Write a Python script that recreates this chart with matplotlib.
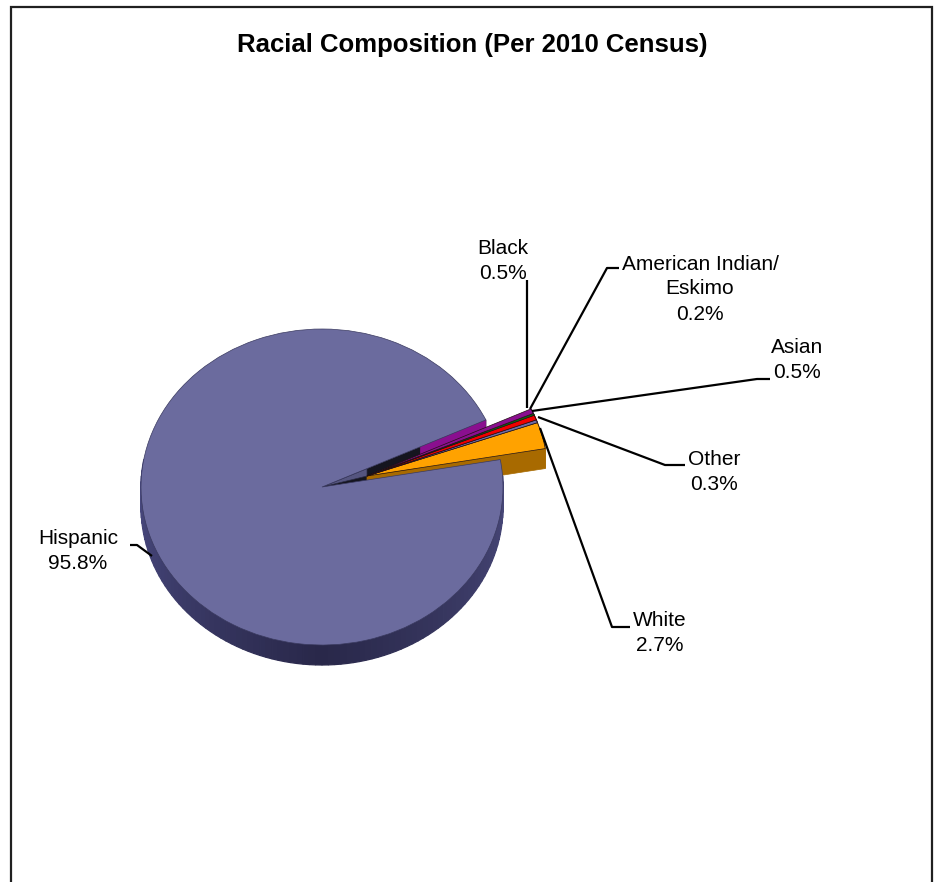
import numpy as np
import matplotlib
matplotlib.use("Agg")
import matplotlib.pyplot as plt
from matplotlib.patches import Wedge, Polygon, Rectangle

plt.rcParams['font.family'] = ['Liberation Sans', 'DejaVu Sans']

# data
categories = ['White', 'Other', 'Asian', 'American Indian/\nEskimo', 'Black', 'Hispanic']
values = [2.7, 0.3, 0.5, 0.2, 0.5, 95.8]
title = 'Racial Composition (Per 2010 Census)'

# styles
top_colors = ['#FFA200', '#6C6CA8', '#F00000', '#0B6B12', '#8A0F8F', '#6B6B9E']
side_colors = ['#A86A00', '#46466E', '#9A0000', '#063F0A', '#5A0A5E', '#33335A']
W, H = 934, 882
CX, CY, RX, RY, DEPTH = 322, 487, 181, 158, 20
OFF_X, OFF_Y = 45, -11
START = 10.0

fig = plt.figure(figsize=(W / 100, H / 100), dpi=100, facecolor='white')
ax = fig.add_axes([0, 0, 1, 1])
# one data unit is one pie radius along each axis, so a circle is drawn as the ellipse
ax.set_xlim(-CX / RX, (W - CX) / RX)
ax.set_ylim(-(H - CY) / RY, CY / RY)
ax.axis('off')


def px(x, y):
    return (x - CX) / RX, (CY - y) / RY


dz = DEPTH / RY
ox, oy = OFF_X / RX, -OFF_Y / RY

fracs = np.array(values) / sum(values) * 360.0
starts = START + np.concatenate([[0], np.cumsum(fracs)[:-1]])
ends = starts + fracs


def rim(a0, a1, c0, c1=None, cx=0.0, cy=0.0, z=1, steps=None):
    c1 = c0 if c1 is None else c1
    n = steps or max(2, int(abs(a1 - a0) / 2))
    ang = np.radians(np.linspace(a0, a1, n + 1))
    for i in range(n):
        t = i / max(n - 1, 1)
        col = np.array(matplotlib.colors.to_rgb(c0)) * (1 - t) + np.array(matplotlib.colors.to_rgb(c1)) * t
        pts = [(cx + np.cos(ang[i]), cy + np.sin(ang[i])),
               (cx + np.cos(ang[i + 1]), cy + np.sin(ang[i + 1])),
               (cx + np.cos(ang[i + 1]), cy + np.sin(ang[i + 1]) - dz),
               (cx + np.cos(ang[i]), cy + np.sin(ang[i]) - dz)]
        ax.add_patch(Polygon(pts, closed=True, facecolor=col, edgecolor=col, lw=0.9, zorder=z))


# rim of the large slice
rim(170, 270, '#4C4C84', '#29284A', z=1)
rim(270, 370, '#29284A', '#4A4A7C', z=1)

# exposed cut wall of the large slice, seen through the gap
ag = np.radians(starts[0])
ue = np.radians(ends[4])
ux, uy = np.cos(ue), np.sin(ue)
wall = [(0, 0), (ux, uy), (ux, uy - dz), (0, -dz)]
ax.add_patch(Polygon(wall, closed=True, facecolor='#15151F', edgecolor='#15151F', lw=0.6, zorder=2))
# outer part of that wall catches the purple of the neighbouring slice
k = 0.6
wall_out = [(k * ux, k * uy), (ux, uy), (ux, uy - dz), (k * ux, k * uy - dz)]
ax.add_patch(Polygon(wall_out, closed=True, facecolor=top_colors[4], edgecolor=top_colors[4], lw=0.4, zorder=2.2))
t = OFF_X / RX / ux
tri = [(0, 0), (t * ux, t * uy), (ox, oy)]
ax.add_patch(Polygon(tri, closed=True, facecolor='#55557F', edgecolor='#2A2A44', lw=0.5, zorder=2.5))

# lower cut wall of the pulled-out group
low = [(ox, oy), (ox + np.cos(ag), oy + np.sin(ag)),
       (ox + np.cos(ag), oy + np.sin(ag) - dz), (ox, oy - dz)]
ax.add_patch(Polygon(low, closed=True, facecolor=side_colors[0], edgecolor=side_colors[0], lw=0.5, zorder=2))

# top of the large slice
ax.add_patch(Wedge((0, 0), 1, ends[4], ends[5], facecolor=top_colors[5],
                   edgecolor='#3A3A60', lw=0.5, zorder=3))

# pulled-out slices: outer rim, then top
for i in range(5):
    rim(starts[i], ends[i], side_colors[i], cx=ox, cy=oy, z=4, steps=4)
for i in range(5):
    ax.add_patch(Wedge((ox, oy), 1, starts[i], ends[i], facecolor=top_colors[i],
                       edgecolor='#201010', lw=0.5, zorder=5))

# leader lines (pixel positions of the reference)
leaders = [
    [(540, 428), (612, 627), (630, 627)],
    [(538, 417), (665, 465), (685, 465)],
    [(532, 411), (757, 379), (770, 379)],
    [(530, 409), (607, 268), (619, 268)],
    [(527, 408), (527, 280)],
    [(130, 545), (137, 545), (152, 556)],
]
for seg in leaders:
    xy = np.array([px(*p) for p in seg])
    ax.plot(xy[:, 0], xy[:, 1], color='black', lw=1.6, zorder=6, solid_capstyle='butt')

# frame: left, top and right, the bottom runs off the picture
ax.add_patch(Rectangle(px(11, 890), (932 - 11) / RX, (890 - 7) / RY, facecolor='none',
                       edgecolor='#202020', lw=1.6, zorder=7))

# texts
fig.text(472 / W, 1 - 45 / H, title, ha='center', va='center', fontsize=18.5, fontweight='bold', color='black')

label_pos = {
    'White': (660, 633),
    'Other': (714, 472),
    'Asian': (797, 360),
    'American Indian/\nEskimo': (700, 289),
    'Black': (503, 261),
    'Hispanic': (78, 551),
}
for name, val in zip(categories, values):
    x, y = label_pos[name]
    s = f'{name}\n{val:.1f}%'
    fig.text(x / W, 1 - y / H, s, ha='center', va='center', fontsize=15.0,
             color='black', linespacing=1.4)

fig.savefig('out.png', dpi=100, facecolor='white')
